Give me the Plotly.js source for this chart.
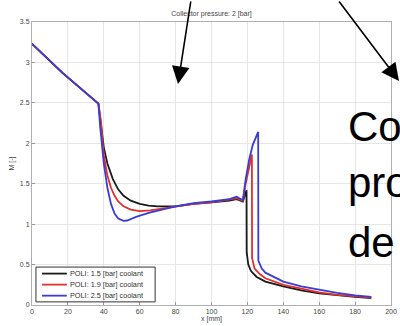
<!DOCTYPE html>
<html>
<head>
<meta charset="utf-8">
<script src="https://cdn.plot.ly/plotly-3.0.1.min.js"></script>
<style>
  html, body { margin: 0; padding: 0; background: #fff; }
  #chart { width: 400px; height: 326px; }
</style>
</head>
<body>
<div id="chart"></div>
<script>
// Mach number along the nozzle axis for three coolant pressures
const seriesNames = ['POLI: 1.5 [bar] coolant', 'POLI: 1.9 [bar] coolant', 'POLI: 2.5 [bar] coolant'];
const seriesColors = ['#1a1a1a', '#e0302c', '#3b3bd6'];

const xBlack = [0, 10, 17, 37, 38.5, 40, 42, 45, 48, 51, 55, 60, 65, 70, 80, 90, 100, 110, 114, 117, 117.5, 119.5, 119.6, 120.5, 122, 125, 130, 140, 150, 160, 170, 180, 189];
const yBlack = [3.23, 3.02, 2.87, 2.49, 2.2, 1.95, 1.75, 1.56, 1.43, 1.35, 1.29, 1.25, 1.23, 1.22, 1.22, 1.25, 1.27, 1.29, 1.31, 1.28, 1.28, 1.42, 0.65, 0.5, 0.42, 0.35, 0.29, 0.23, 0.18, 0.145, 0.12, 0.1, 0.085];

const xRed = [0, 10, 17, 37, 38.5, 40, 42, 44, 46, 48, 51, 55, 60, 66, 72, 80, 90, 100, 110, 114, 117, 117.5, 119, 121, 122.5, 122.6, 124, 127, 130, 140, 150, 160, 170, 180, 189];
const yRed = [3.23, 3.02, 2.87, 2.49, 2.25, 1.85, 1.6, 1.45, 1.35, 1.28, 1.22, 1.18, 1.16, 1.17, 1.19, 1.22, 1.25, 1.27, 1.3, 1.32, 1.29, 1.29, 1.5, 1.72, 1.86, 0.58, 0.45, 0.38, 0.33, 0.25, 0.2, 0.155, 0.125, 0.105, 0.09];

const xBlue = [0, 10, 17, 37, 38, 40, 42, 44, 46, 48, 51, 53, 58, 65, 72, 80, 90, 100, 110, 114, 117, 117.5, 119, 121, 123, 126, 126.1, 128, 130, 135, 140, 150, 160, 170, 180, 189];
const yBlue = [3.23, 3.02, 2.87, 2.49, 2.2, 1.75, 1.45, 1.25, 1.13, 1.07, 1.04, 1.045, 1.09, 1.14, 1.18, 1.22, 1.26, 1.28, 1.31, 1.34, 1.3, 1.3, 1.55, 1.8, 1.98, 2.14, 0.55, 0.45, 0.4, 0.34, 0.29, 0.23, 0.19, 0.15, 0.12, 0.1];

const xTicks = [0, 20, 40, 60, 80, 100, 120, 140, 160, 180, 200];
const yTicks = [0, 0.5, 1, 1.5, 2, 2.5, 3, 3.5];

const chartTitle = 'Collector pressure: 2 [bar]';
const xTitle = 'x [mm]';
const yTitle = 'M [-]';
const calloutLines = ['Co', 'pro', 'de'];

const xs = [xBlack, xRed, xBlue];
const ys = [yBlack, yRed, yBlue];

const traces = xs.map((x, i) => ({
  type: 'scatter',
  mode: 'lines',
  x: x,
  y: ys[i],
  name: seriesNames[i],
  line: { color: seriesColors[i], width: 1.8 },
  showlegend: false
}));

const font = { family: 'Liberation Sans, Arial, sans-serif', size: 7, color: '#444' };

// Boxed key in the lower-left corner of the axes
const shapes = [{
  type: 'rect', xref: 'paper', yref: 'paper',
  x0: 0.011, x1: 0.343, y0: 0.011, y1: 0.134,
  line: { color: '#333', width: 1 }, fillcolor: '#fff', layer: 'above'
}];
const annotations = [];
const rowY = [0.111, 0.072, 0.033];
seriesNames.forEach((name, i) => {
  shapes.push({
    type: 'line', xref: 'paper', yref: 'paper',
    x0: 0.028, x1: 0.097, y0: rowY[i], y1: rowY[i],
    line: { color: seriesColors[i], width: 1.8 }, layer: 'above'
  });
  annotations.push({
    xref: 'paper', yref: 'paper', x: 0.101, y: rowY[i],
    xanchor: 'left', yanchor: 'middle', showarrow: false,
    text: name, font: { family: font.family, size: 7.3, color: '#333' }
  });
});

// Pointer arrows
annotations.push({
  xref: 'paper', yref: 'paper', x: 0.4067, y: 0.781,
  ax: 13, ay: -92, text: '', showarrow: true,
  arrowhead: 2, arrowsize: 2.2, arrowwidth: 1.6, arrowcolor: '#000'
});
annotations.push({
  xref: 'paper', yref: 'paper', x: 1.025, y: 0.7915,
  ax: -62, ay: -85, text: '', showarrow: true,
  arrowhead: 2, arrowsize: 2.2, arrowwidth: 1.6, arrowcolor: '#000'
});

// Large overlaid caption
const calloutY = [0.629, 0.433, 0.2226];
calloutLines.forEach((t, i) => {
  annotations.push({
    xref: 'paper', yref: 'paper', x: 0.8747, y: calloutY[i],
    xanchor: 'left', yanchor: 'middle', showarrow: false,
    text: t, font: { family: 'Liberation Sans, Arial, sans-serif', size: 42, color: '#000' }
  });
});

const axisCommon = {
  showgrid: true, gridcolor: '#e6e6e6', gridwidth: 1,
  showline: true, linecolor: '#b0b0b0', linewidth: 1, mirror: true,
  ticks: 'inside', ticklen: 3, tickcolor: '#999',
  zeroline: false, tickfont: font, automargin: false
};

const layout = {
  width: 400, height: 326,
  margin: { l: 32, r: 9, t: 22, b: 21 },
  paper_bgcolor: '#fff', plot_bgcolor: '#fff',
  font: font,
  title: { text: chartTitle, font: font, x: 0.5, xref: 'paper', y: 0.957, yref: 'container', yanchor: 'middle' },
  xaxis: Object.assign({}, axisCommon, {
    range: [0, 200], tickvals: xTicks, ticktext: xTicks.map(String),
    title: { text: xTitle, font: font, standoff: 0 }
  }),
  yaxis: Object.assign({}, axisCommon, {
    range: [0, 3.5], tickvals: yTicks, ticktext: yTicks.map(String),
    title: { text: yTitle, font: font, standoff: 4 }
  }),
  shapes: shapes,
  annotations: annotations,
  showlegend: false
};

Plotly.newPlot('chart', traces, layout, { staticPlot: true, displayModeBar: false });
</script>
</body>
</html>
